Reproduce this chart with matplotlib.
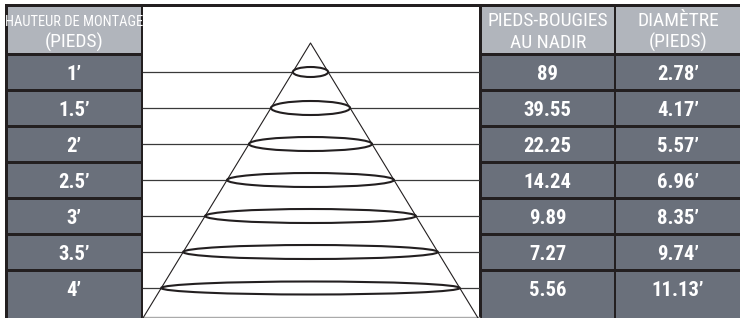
import matplotlib
matplotlib.use("Agg")
import matplotlib.pyplot as plt
from matplotlib import font_manager
from matplotlib.patches import Rectangle, Ellipse

# table content
header_left = ["HAUTEUR DE MONTAGE", "(PIEDS)"]
header_fc = ["PIEDS-BOUGIES", "AU NADIR"]
header_diam = ["DIAMÈTRE", "(PIEDS)"]
mount_heights = ["1’", "1.5’", "2’", "2.5’", "3’", "3.5’", "4’"]
footcandles = ["89", "39.55", "22.25", "14.24", "9.89", "7.27", "5.56"]
diameters = ["2.78’", "4.17’", "5.57’", "6.96’", "8.35’", "9.74’", "11.13’"]
ellipse_h = [10, 14, 14, 14, 14, 14, 13]  # drawn height of each light ring

W, H = 740, 318
DARK = "#231f20"
HEAD = "#b1b5bc"
BODY = "#6a707b"

# narrowest sans we can find
installed = {f.name for f in font_manager.fontManager.ttflist}
FONT = "DejaVu Sans"
for name in ["Liberation Sans Narrow", "Roboto Condensed", "DejaVu Sans Condensed",
             "Liberation Sans", "Roboto"]:
    if name in installed:
        FONT = name
        break

fig = plt.figure(figsize=(W / 100, H / 100), dpi=100)
ax = fig.add_axes([0, 0, 1, 1])
ax.set_xlim(0, W)
ax.set_ylim(H, 0)
ax.axis("off")
renderer = fig.canvas.get_renderer()


def text_width(s, size, weight="normal"):
    t = ax.text(0, 0, s, fontsize=size, family=FONT, fontweight=weight)
    w = t.get_window_extent(renderer).width
    t.remove()
    return w


def fit_size(s, target, weight="normal"):
    return 20 * target / text_width(s, 20, weight)


# dark frame, cells sit on top of it
ax.add_patch(Rectangle((5, 4), W - 5, H - 4, color=DARK, lw=0))

cols = [(7.5, 140.5), (482, 613.5), (616, 740)]
row_top = 54.5
row_h = 36
n = len(mount_heights)

for x0, x1 in cols:
    ax.add_patch(Rectangle((x0, 6.5), x1 - x0, 53 - 6.5, color=HEAD, lw=0))
    for i in range(n):
        y0 = row_top + row_h * i + 1.3
        h = row_h - 2.4 if i < n - 1 else H - y0
        ax.add_patch(Rectangle((x0, y0), x1 - x0, h, color=BODY, lw=0))

# middle drawing area
mx0, mx1 = 143, 479
ax.add_patch(Rectangle((mx0, 6.5), mx1 - mx0, H - 6.5, color="white", lw=0))
ax.plot([mx0, mx1], [317, 317], color="#aaaaaa", lw=1)

apex_x, apex_y = 310.5, 43
slope = (apex_x - mx0) / (H - apex_y)
ax.plot([mx0, apex_x, mx1 - 1], [H, apex_y, H], color=DARK, lw=0.8, zorder=3)

for i in range(n):
    yc = row_top + row_h * i + 17.5
    ax.plot([mx0, mx1], [yc, yc], color="#3a3a3a", lw=0.9, zorder=2)
    w = 2 * slope * (yc - apex_y)
    ax.add_patch(Ellipse((apex_x, yc), w, ellipse_h[i], facecolor="white",
                         edgecolor=DARK, lw=1.5, zorder=4))

# header text
head_size = min(fit_size("PIEDS-BOUGIES", 127), 14)
left_size = min(fit_size(header_left[0], 138), head_size)


def header(col, lines, size1):
    xc = (cols[col][0] + cols[col][1]) / 2
    ax.text(xc, 26.5, lines[0], color="white", ha="center", va="baseline",
            fontsize=size1, family=FONT)
    ax.text(xc, 47.5, lines[1], color="white", ha="center", va="baseline",
            fontsize=head_size, family=FONT)


header(0, header_left, left_size)
header(1, header_fc, head_size)
header(2, header_diam, head_size)

body_size = min(fit_size("39.55", 48, "bold"), 15)
for col, values in enumerate([mount_heights, footcandles, diameters]):
    xc = (cols[col][0] + cols[col][1]) / 2
    for i, v in enumerate(values):
        yb = row_top + row_h * i + 17.5 + 7.5
        ax.text(xc, yb, v, color="white", ha="center", va="baseline",
                fontsize=body_size, fontweight="bold", family=FONT)

fig.savefig("out.png", dpi=100)
